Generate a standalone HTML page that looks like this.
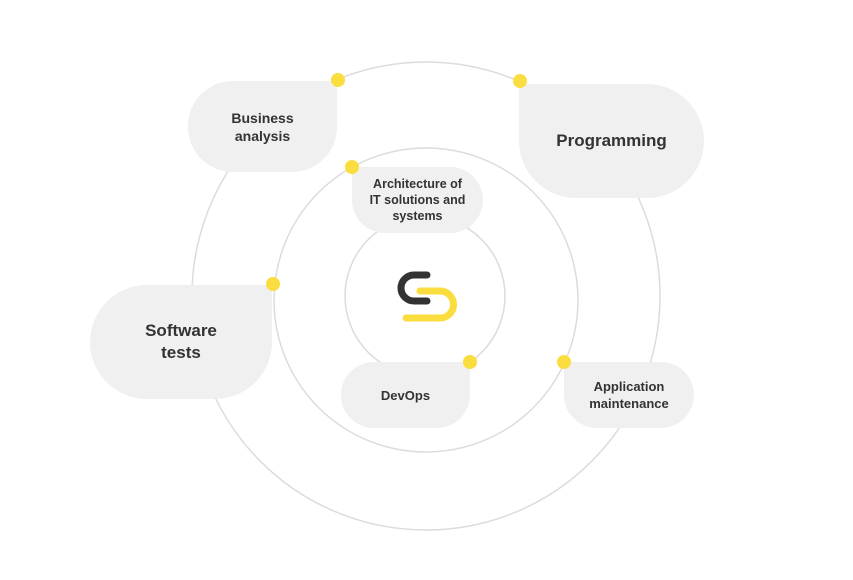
<!DOCTYPE html>
<html><head><meta charset="utf-8"><style>
body{margin:0;background:#fff;width:853px;height:580px;overflow:hidden;position:relative;font-family:"Liberation Sans",sans-serif;}
.b{position:absolute;background:#f0f0f0;display:flex;align-items:center;justify-content:center;text-align:center;color:#333;font-weight:bold;box-sizing:border-box;}
</style></head><body>
<svg width="853" height="580" style="position:absolute;left:0;top:0">
<g fill="none" stroke="#dcdcdc" stroke-width="1.5">
<circle cx="426" cy="296" r="234"/>
<circle cx="426" cy="300" r="152"/>
<circle cx="425" cy="296" r="80"/>
</g>
</svg>
<div class="b" style="left:188px;top:81px;width:149px;height:91px;border-radius:45px 2px 45px 45px;font-size:14px;line-height:18px">Business<br>analysis</div>
<div class="b" style="left:519px;top:84px;width:185px;height:114px;border-radius:2px 57px 57px 57px;font-size:17px">Programming</div>
<div class="b" style="left:352px;top:167px;width:131px;height:66px;border-radius:2px 33px 33px 33px;font-size:12.5px;line-height:16px">Architecture of<br>IT solutions and<br>systems</div>
<div class="b" style="left:90px;top:285px;width:182px;height:114px;border-radius:57px 2px 57px 57px;font-size:17px;line-height:22px">Software<br>tests</div>
<div class="b" style="left:341px;top:362px;width:129px;height:66px;border-radius:33px 2px 33px 33px;font-size:13px">DevOps</div>
<div class="b" style="left:564px;top:362px;width:130px;height:66px;border-radius:2px 33px 33px 33px;font-size:13px;line-height:17px">Application<br>maintenance</div>
<svg width="853" height="580" style="position:absolute;left:0;top:0">
<g fill="#fadd3e">
<circle cx="338" cy="80" r="7"/><circle cx="520" cy="81" r="7"/><circle cx="352" cy="167" r="7"/>
<circle cx="273" cy="284" r="7"/><circle cx="470" cy="362" r="7"/><circle cx="564" cy="362" r="7"/>
</g>
<path d="M427,275 H414 a13,13 0 0 0 0,26 H427" fill="none" stroke="#333" stroke-width="7" stroke-linecap="round"/>
<path d="M406,318 H440 a13.5,13.5 0 0 0 0,-27 H420" fill="none" stroke="#fadd3e" stroke-width="7" stroke-linecap="round"/>
</svg>
</body></html>
